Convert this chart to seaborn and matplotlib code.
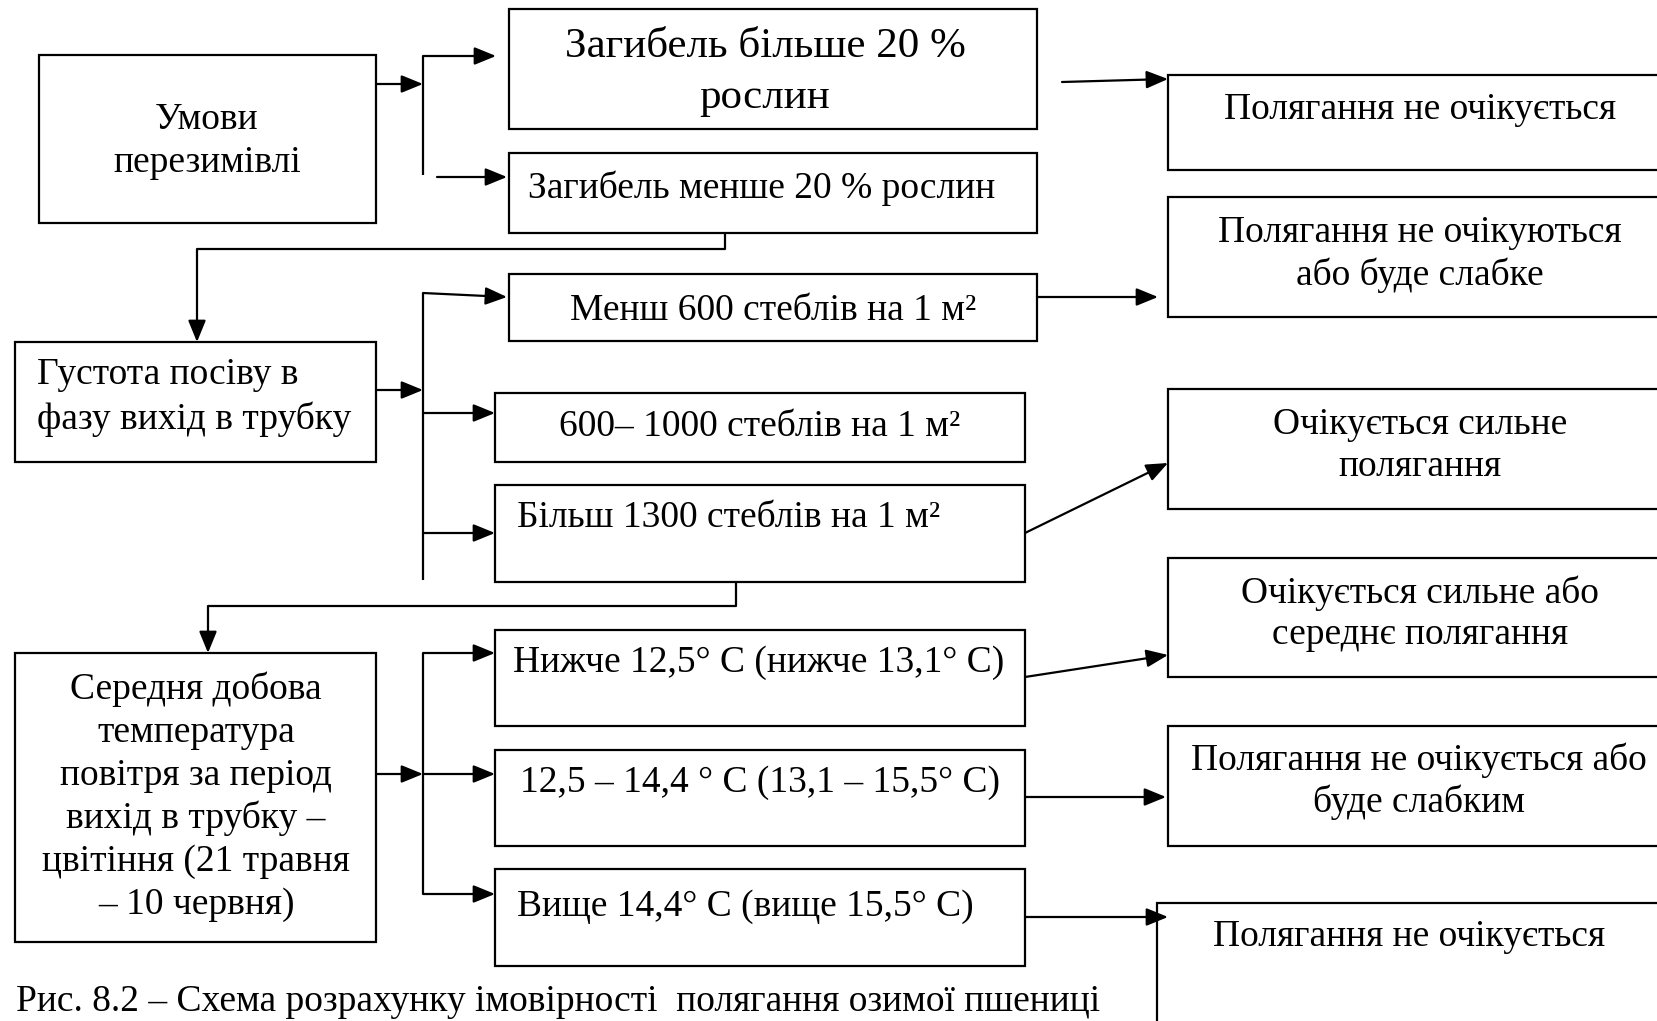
import matplotlib
matplotlib.use("Agg")
import matplotlib.pyplot as plt
import seaborn as sns
from matplotlib.patches import Rectangle

# тексти блоків схеми
box_names = ["A", "B", "C", "D", "E", "F", "G", "H", "I", "K", "L", "J", "M", "N", "O", "P", "Q"]
box_texts = [
    ["Умови", "перезимівлі"],
    ["Загибель більше 20 %", "рослин"],
    ["Загибель менше 20 % рослин"],
    ["Менш 600 стеблів на 1 м²"],
    ["Полягання не очікується"],
    ["Полягання не очікуються", "або буде слабке"],
    ["Густота посіву в", "фазу вихід в трубку"],
    ["600– 1000 стеблів на 1 м²"],
    ["Більш 1300 стеблів на 1 м²"],
    ["Очікується сильне", "полягання"],
    ["Очікується сильне або", "середнє полягання"],
    ["Середня добова", "температура", "повітря за період", "вихід в трубку –", "цвітіння (21 травня", "– 10 червня)"],
    ["Нижче 12,5° C (нижче 13,1° C)"],
    ["12,5 – 14,4 ° C (13,1 – 15,5° C)"],
    ["Вище 14,4° C (вище 15,5° C)"],
    ["Полягання не очікується або", "буде слабким"],
    ["Полягання не очікується"],
]
caption = "Рис. 8.2 – Схема розрахунку імовірності  полягання озимої пшениці"

# розміщення блоків (x0, y0, x1, y1) у пікселях
box_rects = {
    "A": (39, 55, 376, 223), "B": (509, 9, 1037, 129), "C": (509, 153, 1037, 233),
    "D": (509, 274, 1037, 341), "E": (1168, 75, 1720, 170), "F": (1168, 197, 1720, 317),
    "G": (15, 342, 376, 462), "H": (495, 393, 1025, 462), "I": (495, 485, 1025, 582),
    "K": (1168, 389, 1720, 509), "L": (1168, 558, 1720, 677), "J": (15, 653, 376, 942),
    "M": (495, 630, 1025, 726), "N": (495, 750, 1025, 846), "O": (495, 869, 1025, 966),
    "P": (1168, 726, 1720, 846), "Q": (1157, 903, 1720, 1120),
}
# положення тексту: (x, y центру, вирівнювання, крок рядків, розмір)
text_pos = {
    "A": (207, 141, "center", 43, 27), "B": (765, 72, "center", 51, 31),
    "C": (762, 188, "center", 42, 27), "D": (773, 311, "center", 42, 27),
    "E": (1420, 110, "center", 42, 27), "F": (1420, 254, "center", 42, 27),
    "G": (37, 397, "left", 45, 27), "H": (760, 427, "center", 42, 27),
    "I": (517, 518, "left", 42, 27), "K": (1420, 446, "center", 42, 27),
    "L": (1420, 614, "center", 42, 27), "J": (196, 797, "center", 43, 27),
    "M": (759, 663, "center", 42, 27), "N": (760, 783, "center", 42, 27),
    "O": (517, 907, "left", 42, 27), "P": (1419, 781, "center", 42, 27),
    "Q": (1409, 937, "center", 42, 27),
}

plain_lines = [
    [(423, 56), (423, 175)],
    [(725, 233), (725, 249), (197, 249)],
    [(423, 293), (423, 580)],
    [(736, 582), (736, 606), (208, 606)],
    [(423, 653), (423, 894)],
]
arrows = [
    ((376, 84), (423, 84)), ((423, 56), (496, 56)), ((437, 177), (507, 177)),
    ((1062, 82), (1168, 79)), ((197, 249), (197, 342)), ((376, 390), (423, 390)),
    ((423, 293), (507, 297)), ((423, 413), (495, 413)), ((423, 533), (495, 533)),
    ((1037, 297), (1158, 297)), ((1025, 533), (1168, 463)), ((208, 606), (208, 653)),
    ((376, 774), (423, 774)), ((423, 653), (495, 653)), ((423, 774), (495, 774)),
    ((423, 894), (495, 894)), ((1025, 677), (1168, 655)), ((1025, 797), (1166, 797)),
    ((1025, 917), (1168, 917)),
]

sns.set_theme(style="white")
plt.rcParams['font.family'] = ['Liberation Serif', 'DejaVu Serif']

W, H = 1657, 1021
fig = plt.figure(figsize=(W / 100, H / 100), dpi=100)
ax = fig.add_axes([0, 0, 1, 1])
ax.set_xlim(0, W)
ax.set_ylim(H, 0)
ax.axis('off')
sns.despine(ax=ax, left=True, bottom=True)

for name, lines in zip(box_names, box_texts):
    x0, y0, x1, y1 = box_rects[name]
    ax.add_patch(Rectangle((x0, y0), x1 - x0, y1 - y0, facecolor='white',
                           edgecolor='black', lw=1.6, zorder=2))
    tx, ty, ha, step, fs = text_pos[name]
    n = len(lines)
    for i, line in enumerate(lines):
        ax.text(tx, ty + (i - (n - 1) / 2) * step, line, ha=ha, va='center',
                fontsize=fs, color='black', zorder=3)

for pts in plain_lines:
    ax.plot([p[0] for p in pts], [p[1] for p in pts], color='black', lw=1.6,
            solid_capstyle='butt', zorder=1)

for start, end in arrows:
    ax.annotate("", xy=end, xytext=start,
                arrowprops=dict(arrowstyle='-|>,head_length=1.1,head_width=0.45',
                                mutation_scale=12, color='black', lw=1.6,
                                shrinkA=0, shrinkB=0), zorder=4)

# підпис рисунка
ax.text(16, 1011, caption, ha='left', va='baseline', fontsize=27, color='black')

fig.savefig("out.png", dpi=100)
